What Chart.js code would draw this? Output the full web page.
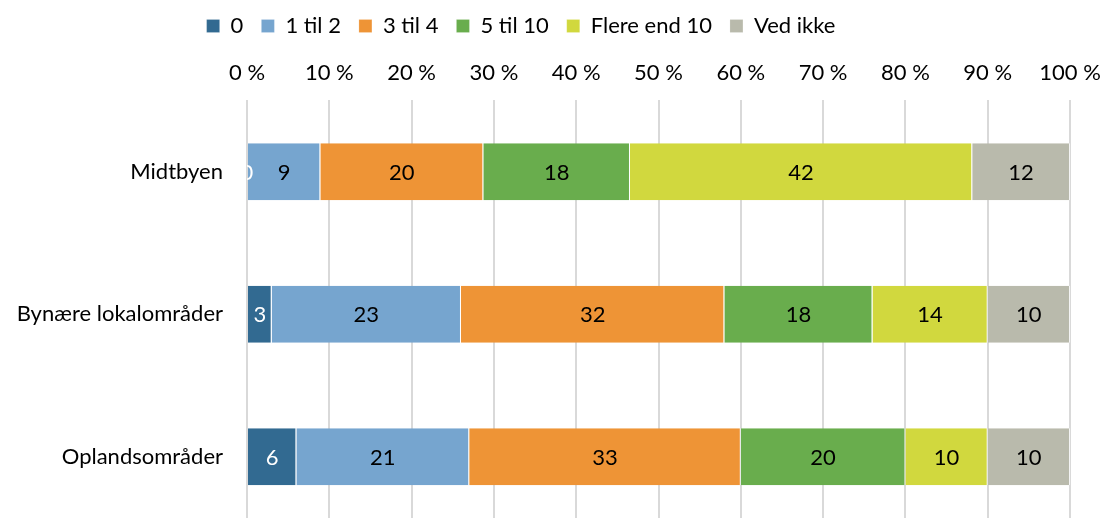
<!DOCTYPE html>
<html>
<head>
<meta charset="utf-8">
<script src="https://cdn.jsdelivr.net/npm/chart.js@4/dist/chart.umd.min.js"></script>
<style>
  html, body { margin: 0; padding: 0; background: #fff; overflow: hidden; }
  canvas { display: block; }
</style>
</head>
<body>
<canvas id="chart" width="1102" height="528"></canvas>
<script>
const kategorier = ['Midtbyen', 'Bynære lokalområder', 'Oplandsområder'];
const grupper = ['0', '1 til 2', '3 til 4', '5 til 10', 'Flere end 10', 'Ved ikke'];
const farver = ['#326a91', '#76a5cf', '#ee9436', '#69ad4d', '#d1d83e', '#b9baac'];

// andel i procent for hver gruppe, en række pr. område
const vaerdier0 = [0, 3, 6];
const vaerdier1til2 = [9, 23, 21];
const vaerdier3til4 = [20, 32, 33];
const vaerdier5til10 = [18, 18, 20];
const vaerdierOver10 = [42, 14, 10];
const vaerdierVedIkke = [12, 10, 10];

const serier = [vaerdier0, vaerdier1til2, vaerdier3til4, vaerdier5til10, vaerdierOver10, vaerdierVedIkke];
const akseTicks = [0, 10, 20, 30, 40, 50, 60, 70, 80, 90, 100];

// summen pr. række, så søjlerne fylder 100 %
const rækkeSum = kategorier.map((_, i) => serier.reduce((s, arr) => s + arr[i], 0));

const fontFamily = 'Lato, "Open Sans", sans-serif';
const fontSize = 22;

// tallene midt i hvert felt
const etiketter = {
    id: 'etiketter',
    afterDatasetsDraw(chart) {
        const ctx = chart.ctx;
        const area = chart.chartArea;
        ctx.save();
        ctx.beginPath();
        ctx.rect(area.left, area.top, area.right - area.left, area.bottom - area.top);
        ctx.clip();
        ctx.font = fontSize + 'px ' + fontFamily;
        ctx.textAlign = 'center';
        ctx.textBaseline = 'middle';
        chart.data.datasets.forEach((ds, di) => {
            const meta = chart.getDatasetMeta(di);
            meta.data.forEach((bar, i) => {
                const x = (bar.x + bar.base) / 2;
                ctx.fillStyle = di === 0 ? '#ffffff' : '#000000';
                ctx.fillText(String(ds.raw[i]), x, bar.y + 1);
            });
        });
        ctx.restore();
    }
};

// forklaringen står lidt til venstre for midten
const flytForklaring = {
    id: 'flytForklaring',
    afterLayout(chart) {
        const lg = chart.legend;
        if (!lg) return;
        const dx = -20, dy = 6;
        lg.left += dx;
        lg.right += dx;
        lg.top += dy;
        lg.bottom += dy;
        if (lg.legendHitBoxes) lg.legendHitBoxes.forEach(b => { b.left += dx; b.top += dy; });
    }
};

new Chart(document.getElementById('chart').getContext('2d'), {
    type: 'bar',
    data: {
        labels: kategorier,
        datasets: grupper.map((navn, k) => ({
            label: navn,
            raw: serier[k],
            data: serier[k].map((v, i) => v / rækkeSum[i] * 100),
            backgroundColor: farver[k],
            borderColor: 'rgba(255,255,255,0.7)',
            borderWidth: { left: 0, right: 1, top: 0, bottom: 0 },
            borderSkipped: false,
            categoryPercentage: 1,
            barPercentage: 0.4
        }))
    },
    plugins: [etiketter, flytForklaring],
    options: {
        indexAxis: 'y',
        responsive: false,
        animation: false,
        layout: { padding: { left: 12, right: 32, top: -9, bottom: 0 } },
        plugins: {
            legend: {
                position: 'top',
                labels: {
                    boxWidth: 13,
                    boxHeight: 13,
                    padding: 18,
                    color: '#000',
                    font: { family: fontFamily, size: fontSize }
                }
            },
            tooltip: { enabled: false }
        },
        scales: {
            x: {
                position: 'top',
                stacked: true,
                min: 0,
                max: 100,
                afterBuildTicks(scale) {
                    scale.ticks = akseTicks.map(v => ({ value: v }));
                },
                afterFit(scale) {
                    scale.height += 5;
                    scale.paddingLeft = 0;
                    scale.paddingRight = 0;
                },
                ticks: {
                    color: '#000',
                    font: { family: fontFamily, size: fontSize },
                    padding: 14,
                    maxRotation: 0,
                    callback: v => v + ' %'
                },
                grid: { color: '#d9d9d9', lineWidth: 2, drawTicks: false },
                border: { display: false }
            },
            y: {
                stacked: true,
                afterFit(scale) {
                    scale.width = 235;
                    scale.paddingTop = 0;
                    scale.paddingBottom = 0;
                },
                ticks: {
                    color: '#000',
                    font: { family: fontFamily, size: fontSize },
                    padding: 16
                },
                grid: { display: false },
                border: { display: false }
            }
        }
    }
});
</script>
</body>
</html>
